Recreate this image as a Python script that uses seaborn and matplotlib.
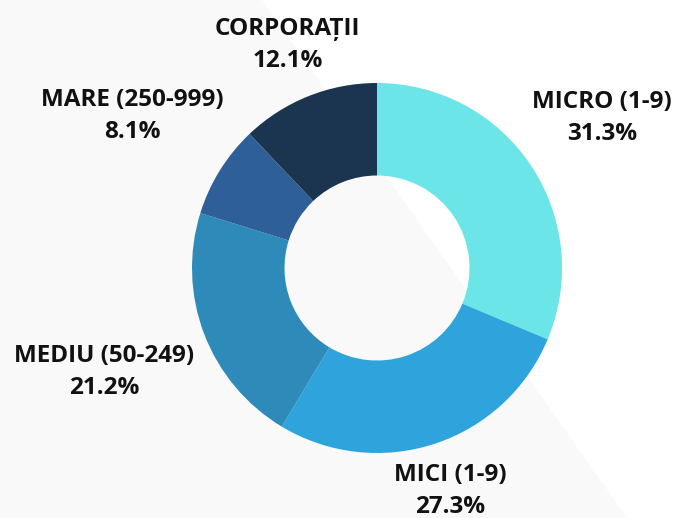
import matplotlib.pyplot as plt
import seaborn as sns
import numpy as np

# ==========================================
# 1. DATA
# ==========================================
categories = ["MICRO (1-9)", "MICI (1-9)", "MEDIU (50-249)", "MARE (250-999)", "CORPORAȚII"]
shares = [31.3, 27.3, 21.2, 8.1, 12.1]
colors = ["#6ce5e8", "#2fa4dc", "#2e8ab9", "#2e5f99", "#1b344f"]
# radial distance of each label, in units of the outer radius
label_dist = [1.46, 1.27, 1.58, 1.56, 1.30]

# ==========================================
# 2. STYLE
# ==========================================
sns.set_theme(style="white")
plt.rcParams['font.family'] = ['Open Sans', 'DejaVu Sans']

fig = plt.figure(figsize=(6.73, 5.18), dpi=100)
ax = fig.add_axes([0, 0, 1, 1])

# light grey diagonal backdrop
ax.fill([0, 627, 262, 0], [0, 0, 518, 518], color="#f9f9f9", zorder=0, lw=0)

# ==========================================
# 3. DONUT
# ==========================================
cx, cy, R = 377, 250, 185
wedges, _ = ax.pie(
    shares,
    colors=colors,
    startangle=90,
    counterclock=False,
    radius=R,
    center=(cx, cy),
    wedgeprops=dict(width=R * 0.5, linewidth=0),
    frame=True,
)
ax.set_xlim(0, 673)
ax.set_ylim(0, 518)
ax.set_aspect('equal')
ax.axis('off')

# labels
for w, name, val, d in zip(wedges, categories, shares, label_dist):
    ang = np.deg2rad((w.theta1 + w.theta2) / 2)
    x = cx + d * R * np.cos(ang)
    y = cy + d * R * np.sin(ang)
    ax.text(x, y, f"{name}\n{val:.1f}%", ha='center', va='center',
            fontsize=17.5, fontweight='bold', color='#111111', linespacing=1.45)

fig.savefig("out.png", dpi=100)
